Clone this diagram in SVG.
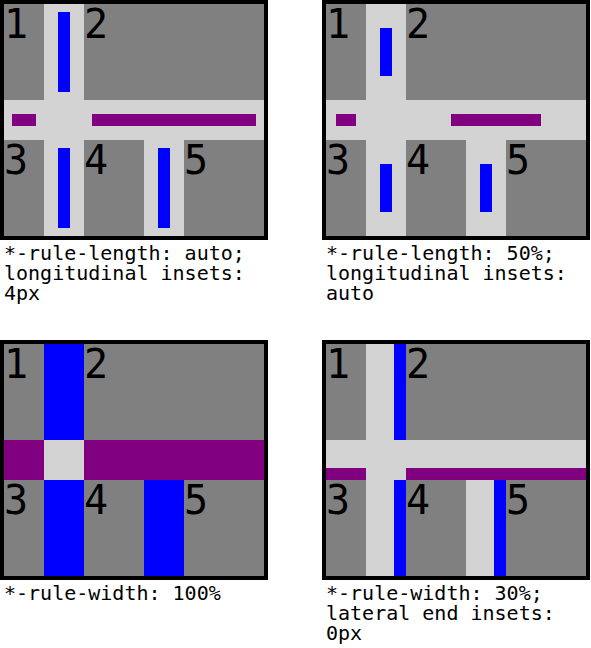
<svg xmlns="http://www.w3.org/2000/svg" width="591" height="648" viewBox="0 0 591 648">
<style>
.frame{fill:#d3d3d3;stroke:#000;stroke-width:4}
.item{fill:#808080}
.col{fill:#0000ff}
.row{fill:#800080}
.num{font-family:"DejaVu Sans Mono",monospace;font-size:40px;fill:#000}
.cap{font-family:"DejaVu Sans Mono",monospace;font-size:20px;fill:#000}
</style>
<defs>
<g id="grid">
<rect class="frame" x="2" y="2" width="264" height="236"/>
<rect class="item" x="4" y="4" width="40" height="96"/>
<rect class="item" x="84" y="4" width="180" height="96"/>
<rect class="item" x="4" y="140" width="40" height="96"/>
<rect class="item" x="84" y="140" width="60" height="96"/>
<rect class="item" x="184" y="140" width="80" height="96"/>
</g>
<g id="nums">
<text class="num" x="4" y="37.8">1</text>
<text class="num" x="84" y="37.8">2</text>
<text class="num" x="4" y="173.8">3</text>
<text class="num" x="84" y="173.8">4</text>
<text class="num" x="184" y="173.8">5</text>
</g>
</defs>
<g id="panel1" transform="translate(0,0)">
<use href="#grid"/>
<rect class="col" x="58" y="12" width="12" height="80"/>
<rect class="col" x="58" y="148" width="12" height="80"/>
<rect class="col" x="158" y="148" width="12" height="80"/>
<rect class="row" x="12" y="114" width="24" height="12"/>
<rect class="row" x="92" y="114" width="164" height="12"/>
<use href="#nums"/>
<text class="cap" x="4" y="260">*-rule-length: auto;</text>
<text class="cap" x="4" y="280">longitudinal insets:</text>
<text class="cap" x="4" y="300">4px</text>
</g>
<g id="panel2" transform="translate(322,0)">
<use href="#grid"/>
<rect class="col" x="58" y="28" width="12" height="48"/>
<rect class="col" x="58" y="164" width="12" height="48"/>
<rect class="col" x="158" y="164" width="12" height="48"/>
<rect class="row" x="14" y="114" width="20" height="12"/>
<rect class="row" x="129" y="114" width="90" height="12"/>
<use href="#nums"/>
<text class="cap" x="4" y="260">*-rule-length: 50%;</text>
<text class="cap" x="4" y="280">longitudinal insets:</text>
<text class="cap" x="4" y="300">auto</text>
</g>
<g id="panel3" transform="translate(0,340)">
<use href="#grid"/>
<rect class="col" x="44" y="4" width="40" height="96"/>
<rect class="col" x="44" y="140" width="40" height="96"/>
<rect class="col" x="144" y="140" width="40" height="96"/>
<rect class="row" x="4" y="100" width="40" height="40"/>
<rect class="row" x="84" y="100" width="180" height="40"/>
<use href="#nums"/>
<text class="cap" x="4" y="260">*-rule-width: 100%</text>
</g>
<g id="panel4" transform="translate(322,340)">
<use href="#grid"/>
<rect class="col" x="72" y="4" width="12" height="96"/>
<rect class="col" x="72" y="140" width="12" height="96"/>
<rect class="col" x="172" y="140" width="12" height="96"/>
<rect class="row" x="4" y="128" width="40" height="12"/>
<rect class="row" x="84" y="128" width="180" height="12"/>
<use href="#nums"/>
<text class="cap" x="4" y="260">*-rule-width: 30%;</text>
<text class="cap" x="4" y="280">lateral end insets:</text>
<text class="cap" x="4" y="300">0px</text>
</g>
</svg>
